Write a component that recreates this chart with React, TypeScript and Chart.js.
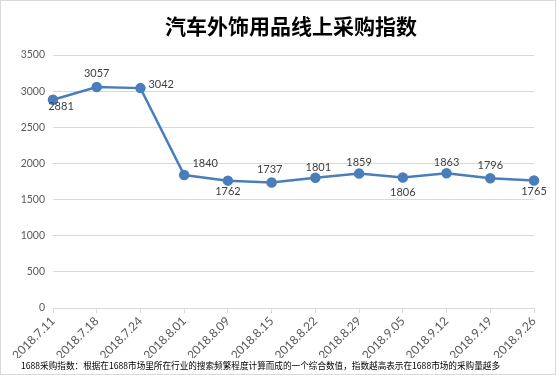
import React, { useEffect, useRef } from "react";
import { Chart, registerables } from "chart.js";

Chart.register(...registerables);

const TITLE = "汽车外饰用品线上采购指数";
const FOOTNOTE =
  "1688采购指数：根据在1688市场里所在行业的搜索频繁程度计算而成的一个综合数值，指数越高表示在1688市场的采购量越多";

const categories = [
  "2018.7.11",
  "2018.7.18",
  "2018.7.24",
  "2018.8.01",
  "2018.8.09",
  "2018.8.15",
  "2018.8.22",
  "2018.8.29",
  "2018.9.05",
  "2018.9.12",
  "2018.9.19",
  "2018.9.26",
];

const values = [2881, 3057, 3042, 1840, 1762, 1737, 1801, 1859, 1806, 1863, 1796, 1765];

// label offsets (style only): [dx, dy, align]
const labelOffsets: [number, number, CanvasTextAlign][] = [
  [8, 7, "center"],
  [0, -14, "center"],
  [8, -4, "left"],
  [21, -12, "center"],
  [0, 11, "center"],
  [-2, -13, "center"],
  [3, -10, "center"],
  [0, -11, "center"],
  [0, 15, "center"],
  [0, -11, "center"],
  [0, -13, "center"],
  [0, 11, "center"],
];

const LINE_COLOR = "#4a7ebb";

const decorPlugin = {
  id: "decor",
  afterDatasetsDraw(chart: any) {
    const ctx = chart.ctx;
    const meta = chart.getDatasetMeta(0);
    ctx.save();
    ctx.font = "11px Lato";
    ctx.fillStyle = "#404040";
    ctx.textBaseline = "middle";
    meta.data.forEach((pt: any, i: number) => {
      const [dx, dy, align] = labelOffsets[i];
      ctx.textAlign = align;
      ctx.fillText(String(values[i]), pt.x + dx, pt.y + dy);
    });
    ctx.restore();
  },
  afterDraw(chart: any) {
    const ctx = chart.ctx;
    ctx.save();
    ctx.fillStyle = "#000";
    ctx.textBaseline = "middle";
    ctx.textAlign = "center";
    ctx.font = "bold 21px 'Noto Sans CJK SC'";
    ctx.fillText(TITLE, 291, 26);
    ctx.textAlign = "left";
    ctx.font = "9px 'Noto Sans CJK SC'";
    ctx.fillText(FOOTNOTE, 21, 366, 479);
    ctx.restore();
  },
};

export default function App() {
  const ref = useRef<HTMLCanvasElement>(null);
  useEffect(() => {
    if (!ref.current) return;
    const chart = new Chart(ref.current, {
      type: "line",
      data: {
        labels: categories,
        datasets: [
          {
            data: values,
            borderColor: LINE_COLOR,
            backgroundColor: LINE_COLOR,
            borderWidth: 2.5,
            pointRadius: 4,
            pointBackgroundColor: LINE_COLOR,
            pointBorderColor: LINE_COLOR,
            tension: 0,
          },
        ],
      },
      options: {
        responsive: false,
        animation: false,
        devicePixelRatio: 1,
        layout: { padding: { top: 55, left: 0, right: 22, bottom: 17 } },
        plugins: {
          legend: { display: false },
          tooltip: { enabled: false },
          title: { display: false },
        },
        scales: {
          x: {
            offset: false,
            grid: {
              display: true,
              drawOnChartArea: false,
              drawTicks: true,
              tickLength: 5,
              color: "#d9d9d9",
            },
            border: { color: "#d9d9d9", width: 1 },
            ticks: {
              autoSkip: false,
              maxRotation: 45,
              minRotation: 45,
              padding: 1,
              color: "#595959",
              font: { family: "Lato", size: 12 },
            },
            afterFit(scale: any) {
              scale.height = 50;
            },
          },
          y: {
            min: 0,
            max: 3500,
            ticks: {
              stepSize: 500,
              padding: 8,
              color: "#595959",
              font: { family: "Lato", size: 10.5 },
              callback: (v: any) => String(v),
            },
            grid: { color: "#d9d9d9", drawTicks: false },
            border: { display: false },
            afterFit(scale: any) {
              scale.width = 53;
            },
          },
        },
      },
      plugins: [decorPlugin],
    });
    return () => chart.destroy();
  }, []);

  return (
    <div style={{ position: "fixed", left: 0, top: 0, width: 556, height: 375, background: "#fff" }}>
      <canvas ref={ref} width={556} height={375} style={{ position: "absolute", left: 0, top: 0, display: "block" }} />
      <div
        style={{
          position: "absolute",
          left: 0,
          top: 0,
          width: 556,
          height: 375,
          boxSizing: "border-box",
          border: "1px solid #d9d9d9",
          pointerEvents: "none",
        }}
      />
    </div>
  );
}
